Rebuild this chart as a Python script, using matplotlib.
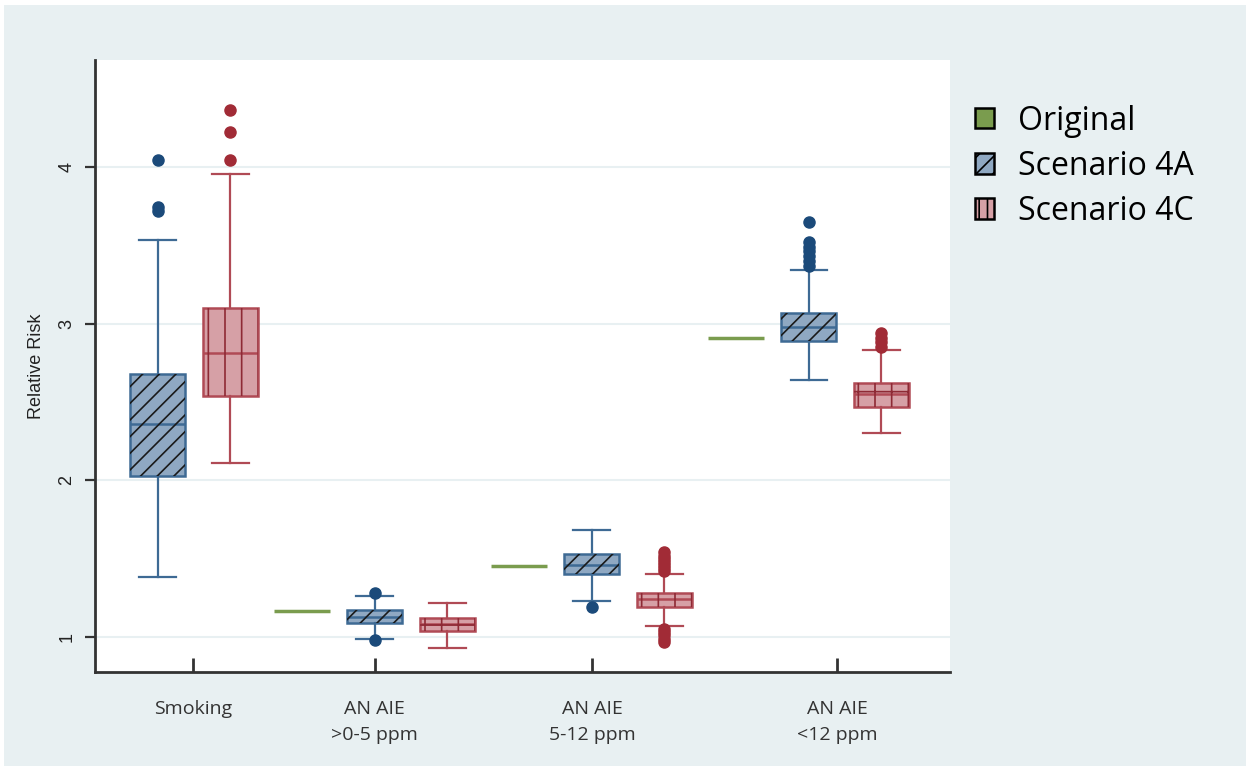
import numpy as np
import matplotlib
matplotlib.use("Agg")
import matplotlib.pyplot as plt
from matplotlib.patches import Patch, PathPatch, Rectangle

plt.rcParams['font.family'] = ['Open Sans', 'DejaVu Sans']

# ---- data ----
groups = ["Smoking", "AN AIE\n>0-5 ppm", "AN AIE\n5-12 ppm", "AN AIE\n<12 ppm"]
tick_pos = [0.16, 1.0, 2.0, 3.13]

original = [None, 1.166, 1.45, 2.91]

# (whislo, q1, med, q3, whishi)
s4a_stats = [(1.38, 2.03, 2.36, 2.68, 3.53),
             (0.99, 1.09, 1.13, 1.17, 1.26),
             (1.23, 1.40, 1.46, 1.53, 1.685),
             (2.64, 2.89, 2.98, 3.07, 3.34)]
s4a_out = [[3.72, 3.74, 4.04],
           [0.98, 1.28],
           [1.19],
           [3.37, 3.40, 3.43, 3.46, 3.49, 3.52, 3.65]]

s4c_stats = [(2.11, 2.535, 2.81, 3.10, 3.955),
             (0.93, 1.04, 1.08, 1.12, 1.22),
             (1.07, 1.19, 1.24, 1.28, 1.40),
             (2.30, 2.47, 2.55, 2.62, 2.83)]
s4c_out = [[4.04, 4.22, 4.365],
           [],
           [0.97, 0.99, 1.01, 1.03, 1.05, 1.42, 1.44, 1.46, 1.48, 1.50, 1.52, 1.54],
           [2.85, 2.88, 2.91, 2.94]]

labels = ["Original", "Scenario 4A", "Scenario 4C"]

# ---- colours ----
bg = "#e8f0f2"
green = "#7a9c4e"
blue_face, blue_edge, blue_dot = "#8fa8c2", "#3e6a94", "#1b4a7a"
red_face, red_edge, red_dot = "#d6a0a6", "#b04a55", "#a12b36"

fig = plt.figure(figsize=(12.5, 7.71), dpi=100, facecolor="white")
fig.patches.append(Rectangle((0.003, 0.007), 0.994, 0.987, transform=fig.transFigure,
                             facecolor=bg, edgecolor="none", zorder=-10))

ax = fig.add_axes([0.076, 0.128, 0.684, 0.794])
ax.set_facecolor("white")

def make_stats(st, out):
    lo, q1, med, q3, hi = st
    return dict(whislo=lo, q1=q1, med=med, q3=q3, whishi=hi, fliers=out)

pos = np.arange(len(groups))
bw = 0.253

def draw(stats, outs, xs, face, edge, dot, hcol, hatches):
    bp = ax.bxp([make_stats(s, o) for s, o in zip(stats, outs)], positions=xs,
                widths=bw, patch_artist=True, showfliers=True,
                capwidths=0.17,
                boxprops=dict(facecolor=face, edgecolor=edge, linewidth=1.8),
                medianprops=dict(color=edge, linewidth=1.8),
                whiskerprops=dict(color=edge, linewidth=1.6),
                capprops=dict(color=edge, linewidth=1.6),
                flierprops=dict(marker="o", markerfacecolor=dot, markeredgecolor=dot,
                                markersize=8))
    # hatching drawn on top in its own colour
    for b, h in zip(bp["boxes"], hatches):
        hp = PathPatch(b.get_path(), transform=b.get_transform(), facecolor="none",
                       edgecolor=hcol, linewidth=0, hatch=h, zorder=b.get_zorder() + 0.1)
        ax.add_patch(hp)
    return bp

plt.rcParams['hatch.linewidth'] = 1.2
draw(s4a_stats, s4a_out, pos, blue_face, blue_edge, blue_dot, "#1a1a1a", ["//"] * 4)
draw(s4c_stats, s4c_out, pos + 0.333, red_face, red_edge, red_dot, "#8e2a35",
     ["|", "+", "+", "+"])

for g, v in enumerate(original):
    if v is not None:
        ax.hlines(v, g - 0.336 - 0.13, g - 0.336 + 0.13, color=green, linewidth=2.5)

ax.set_xlim(-0.29, 3.65)
ax.set_ylim(0.775, 4.68)
ax.set_yticks([1, 2, 3, 4])
ax.set_yticklabels(["1", "2", "3", "4"], rotation=90, va="center", fontsize=13,
                   family=["Liberation Sans", "DejaVu Sans"], color="#222222")
ax.set_xticks(tick_pos)
ax.set_xticklabels(groups, fontsize=14, color="#333333", linespacing=1.55)
ax.tick_params(axis="x", direction="in", length=10, width=2, pad=20, color="#333333")
ax.tick_params(axis="y", direction="out", length=7, width=1.6, pad=7, color="#333333")
ax.grid(axis="y", color=bg, linewidth=1.5)
ax.set_axisbelow(True)
for s in ["top", "right"]:
    ax.spines[s].set_visible(False)
for s in ["left", "bottom"]:
    ax.spines[s].set_color("#333333")
    ax.spines[s].set_linewidth(2)
ax.set_ylabel("Relative Risk", fontsize=13, family=["Liberation Sans", "DejaVu Sans"],
              labelpad=10, color="#222222")

handles = [Patch(facecolor=green, edgecolor="black", linewidth=1.8),
           Patch(facecolor=blue_face, edgecolor="black", linewidth=1.8, hatch="//"),
           Patch(facecolor=red_face, edgecolor="black", linewidth=1.8, hatch="||")]
fig.legend(handles, labels, loc="upper left", bbox_to_anchor=(0.77, 0.881),
           frameon=False, fontsize=23, handlelength=0.6, handleheight=0.6,
           handletextpad=0.75, labelspacing=0.38, borderaxespad=0)

fig.savefig("out.png", dpi=100, facecolor="white")
